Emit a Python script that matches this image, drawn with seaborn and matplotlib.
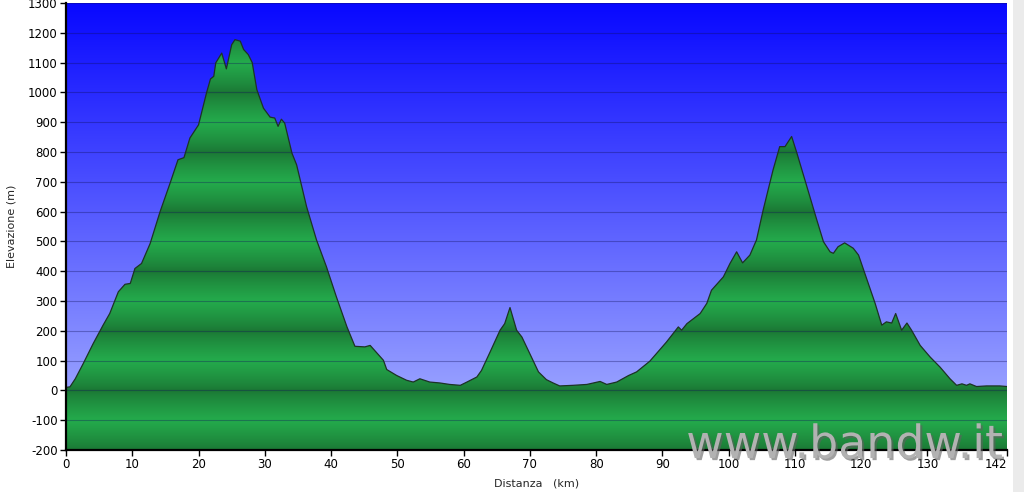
import numpy as np
import matplotlib
matplotlib.use("Agg")
import matplotlib.pyplot as plt
import matplotlib.patheffects as pe
from matplotlib.patches import Rectangle
from matplotlib.colors import to_rgb
import seaborn as sns

sns.set_style("ticks")
plt.rcParams["font.family"] = ["DejaVu Sans"]
plt.rcParams["axes.unicode_minus"] = False

# Elevation profile
distance_km = [0.0, 0.6, 1.4, 2.6, 4.1, 5.6, 6.6, 7.9, 8.9, 9.7, 10.4, 11.4, 12.7, 14.2,
               15.7, 16.9, 17.8, 18.7, 20.0, 21.2, 21.8, 22.3, 22.6, 23.5, 24.2, 25.0,
               25.5, 26.3, 26.8, 27.5, 28.1, 28.8, 29.8, 30.8, 31.5, 32.0, 32.5, 33.0,
               34.1, 34.8, 36.3, 37.8, 39.3, 40.8, 42.4, 43.6, 45.1, 45.9, 46.9, 47.9,
               48.4, 49.9, 51.4, 52.4, 53.4, 54.9, 56.4, 57.9, 59.5, 60.5, 62.0, 62.7,
               64.0, 65.5, 66.2, 67.0, 68.0, 68.8, 70.0, 71.3, 72.5, 73.5, 74.5, 76.5,
               78.6, 80.6, 81.6, 83.1, 84.9, 86.1, 88.1, 90.6, 92.4, 92.9, 93.7, 95.7,
               96.7, 97.4, 99.2, 100.2, 101.2, 102.1, 103.2, 104.2, 105.2, 106.7, 107.7,
               108.5, 109.5, 110.3, 111.8, 113.3, 114.3, 115.3, 115.8, 116.5, 117.5,
               118.8, 119.6, 120.8, 122.1, 123.1, 123.8, 124.6, 125.2, 126.1, 126.9,
               127.6, 128.9, 130.4, 131.9, 133.4, 134.4, 135.2, 135.9, 136.4, 137.4,
               138.9, 140.9, 142.0]
elevation_m = [10, 12, 39, 90, 157, 219, 258, 331, 356, 359, 409, 426, 493, 600,
               695, 774, 781, 847, 891, 998, 1045, 1054, 1099, 1132, 1079, 1160,
               1177, 1172, 1144, 1127, 1100, 1009, 947, 917, 914, 886, 910, 897,
               796, 757, 617, 505, 415, 314, 213, 148, 146, 151, 126, 101,
               70, 50, 34, 28, 39, 28, 25, 20, 17, 28, 45, 67,
               129, 202, 224, 278, 202, 179, 123, 62, 36, 25, 15, 17,
               20, 30, 20, 28, 50, 62, 98, 162, 213, 202, 224, 258,
               292, 336, 381, 426, 465, 428, 454, 505, 605, 740, 818,
               818, 852, 796, 684, 572, 499, 465, 460, 482, 495,
               477, 454, 376, 292, 219, 230, 226, 258, 202, 226,
               202, 151, 112, 78, 39, 17, 22, 17, 22, 13,
               15, 15, 13]

x_ticks = [0, 10, 20, 30, 40, 50, 60, 70, 80, 90, 100, 110, 120, 130, 142]
y_ticks = list(range(-200, 1301, 100))

XMIN, XMAX = 0, 142
YMIN, YMAX = -200, 1300

fig = plt.figure(figsize=(10.24, 4.92), dpi=100)
ax = fig.add_axes([66 / 1024, 42 / 492, 941 / 1024, 447 / 492])

# sky gradient: deep blue at the top, pale periwinkle at the bottom
top_c = np.array([0.03, 0.03, 1.0])
bot_c = np.array([0.68, 0.72, 1.0])
t = np.linspace(0, 1, 600)[:, None]
sky = (top_c * (1 - t) + bot_c * t)[:, None, :]
ax.imshow(sky, extent=[XMIN, XMAX, YMIN, YMAX], aspect="auto", zorder=0,
          interpolation="bilinear")

# green fill banded every 100 m (dark at even hundreds, light at odd)
light = np.array(to_rgb("#24ab4c"))
dark = np.array(to_rgb("#1b7634"))
ys = np.linspace(YMAX, YMIN, 1500)
phase = np.mod(ys, 200) / 100.0
frac = (1 - np.abs(phase - 1)) ** 0.8
band = (dark + (light - dark) * frac[:, None])[:, None, :]
img = ax.imshow(band, extent=[XMIN, XMAX, YMIN, YMAX], aspect="auto", zorder=2,
                interpolation="bilinear")
poly = ax.fill_between(distance_km, elevation_m, YMIN, color="none", lw=0, zorder=2)
clip = poly.get_paths()[0]
img.set_clip_path(clip, transform=ax.transData)

# horizontal grid lines
ax.hlines(y_ticks, XMIN, XMAX, colors="#10105a", linewidth=0.8, alpha=0.35, zorder=3)

# profile outline
sns.lineplot(x=distance_km, y=elevation_m, ax=ax, color="#1d3325", linewidth=0.9,
             zorder=4, estimator=None, sort=False)

ax.set_xlim(XMIN, XMAX)
ax.set_ylim(YMIN, YMAX)
ax.set_xticks(x_ticks)
ax.set_yticks(y_ticks)
ax.tick_params(direction="out", length=4, width=1, colors="black", labelsize=8.5, pad=2)
for lab in ax.get_xticklabels():
    if lab.get_text() == "142":
        lab.set_ha("right")

for side in ["top", "right"]:
    ax.spines[side].set_visible(False)
for side in ["left", "bottom"]:
    ax.spines[side].set_color("black")
    ax.spines[side].set_linewidth(1.6)
    ax.spines[side].set_zorder(5)

ax.set_xlabel("Distanza   (km)", fontsize=8)
ax.set_ylabel("Elevazione (m)", fontsize=8)
ax.xaxis.set_label_coords(0.5, -0.064)
ax.yaxis.set_label_coords(-0.053, 0.5)

# watermark
fig.text(0.9795, 0.069, "www.bandw.it", fontsize=33, color="#b2b2b2", ha="right",
         va="baseline",
         path_effects=[pe.withSimplePatchShadow(offset=(1.5, -1.5), shadow_rgbFace="#606060",
                                                alpha=0.6)])

# light grey strip on the right edge
fig.patches.append(Rectangle((1013 / 1024, 0), 11 / 1024, 1, transform=fig.transFigure,
                             facecolor="#ebebeb", edgecolor="none", zorder=-1))

fig.savefig("out.png", dpi=100)
